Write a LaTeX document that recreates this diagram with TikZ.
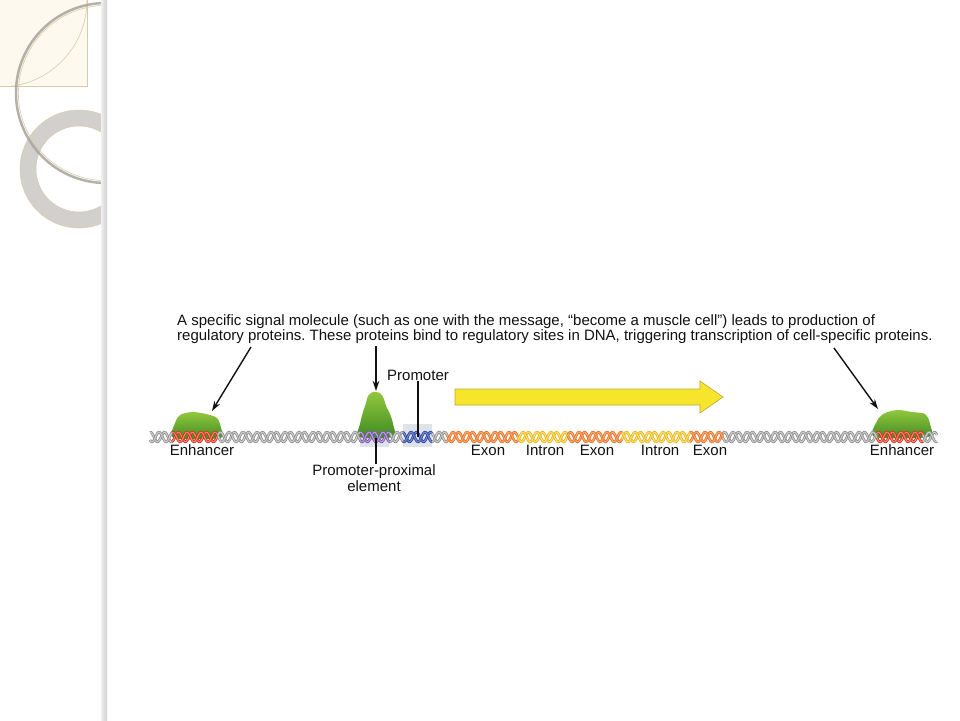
\documentclass[tikz,border=0pt]{standalone}
\usepackage{fontspec}
\setmainfont{Liberation Sans}
\usetikzlibrary{arrows.meta}
\frenchspacing
\definecolor{txt}{HTML}{111111}
\definecolor{cream}{HTML}{FDF9EF}
\definecolor{tanline}{HTML}{D9CBA8}
\definecolor{ringgrey}{HTML}{D2D0CD}
\definecolor{arcgrey}{HTML}{A8A39B}
\definecolor{boxgrey}{HTML}{DEE3EA}
\definecolor{blobhi}{HTML}{92C83E}
\definecolor{bloblo}{HTML}{3E8A22}
\definecolor{arrowyel}{HTML}{F7E52C}
\definecolor{arrowedge}{HTML}{B9A936}
% strand colours: edge / inner
\definecolor{greyE}{HTML}{8A8A8A}\definecolor{greyI}{HTML}{CACACA}
\definecolor{redE}{HTML}{D8261C}\definecolor{redI}{HTML}{F2826A}
\definecolor{purE}{HTML}{7550A8}\definecolor{purI}{HTML}{B79CDA}
\definecolor{bluE}{HTML}{2A3C98}\definecolor{bluI}{HTML}{7088D2}
\definecolor{oraE}{HTML}{E26E26}\definecolor{oraI}{HTML}{F6A86C}
\definecolor{yelE}{HTML}{E9B21E}\definecolor{yelI}{HTML}{F9DE6C}
% one stretch of the double helix: from, to, edge colour, inner colour
\newcommand{\dnapiece}[4]{%
  \foreach \ph in {0,140}{%
    \draw[#3,line width=2.6pt] plot[domain=#1:#2,samples=200] (\x,{437+4.8*sin(mod(\x,14)*25.714+\ph)});
    \draw[#4,line width=1.2pt] plot[domain=#1:#2,samples=200] (\x,{437+4.8*sin(mod(\x,14)*25.714+\ph)});
  }}
\begin{document}
\begin{tikzpicture}[x=1pt,y=-1pt,>={Stealth[length=10pt,width=6.5pt]},
  lbl/.style={font=\fontsize{15}{15.5}\selectfont,text=txt,inner sep=1pt},
  pointer/.style={->,line width=1.4pt,txt},
  tick/.style={line width=1.3pt,txt},
  blob/.style={top color=blobhi,bottom color=bloblo}]
\useasboundingbox (0,0) rectangle (960,720);
% slide decoration
\fill[cream] (0,0) rectangle (87,86);
\draw[tanline,line width=.5pt] (87,0) -- (87,86) -- (0,86);
\begin{scope}
  \clip (0,0) rectangle (87,86);
  \draw[tanline,line width=.6pt] (0,0) circle (87);
\end{scope}
\begin{scope}
  \clip (0,0) rectangle (102,720);
  \draw[ringgrey,line width=16pt] (79,169) circle (51);
  \draw[tanline,line width=.5pt] (79,169) circle (59) (79,169) circle (43);
  \draw[arcgrey,line width=2.5pt,opacity=.85] (106,93) circle (90);
  \draw[tanline,line width=.6pt] (106,93) circle (87.6);
\end{scope}
\shade[left color=gray!12,right color=gray!38] (101,0) rectangle (107,720);
% binding sites
\fill[boxgrey] (360,424) rectangle (389,447);
\fill[boxgrey] (403,424) rectangle (432,447);
% proteins
\shade[blob] plot[smooth cycle] coordinates {(174,438) (175,423) (180,415) (192,412) (206,414) (217,418) (221,428) (220,438)};
\shade[blob] plot[smooth cycle] coordinates {(359,437) (360,424) (363,412) (366,403) (368,396) (373,392) (380,393) (384,399) (386,406) (390,414) (393,424) (393,437)};
\shade[blob] plot[smooth cycle] coordinates {(875,437) (877,421) (885,413) (898,410) (912,412) (925,414) (930,424) (928,437)};
% DNA
\dnapiece{150}{172}{greyE}{greyI}
\dnapiece{172}{218}{redE}{redI}
\dnapiece{218}{360}{greyE}{greyI}
\dnapiece{360}{390}{purE}{purI}
\dnapiece{390}{403}{greyE}{greyI}
\dnapiece{403}{432}{bluE}{bluI}
\dnapiece{432}{447}{greyE}{greyI}
\dnapiece{447}{518}{oraE}{oraI}
\dnapiece{518}{568}{yelE}{yelI}
\dnapiece{568}{622}{oraE}{oraI}
\dnapiece{622}{690}{yelE}{yelI}
\dnapiece{690}{723}{oraE}{oraI}
\dnapiece{723}{877}{greyE}{greyI}
\dnapiece{877}{923}{redE}{redI}
\dnapiece{923}{937}{greyE}{greyI}
% transcription arrow
\filldraw[fill=arrowyel,draw=arrowedge,line width=.6pt] (455,389) -- (700,389) -- (700,381) -- (723,397) -- (700,413) -- (700,405) -- (455,405) -- cycle;
% texts
\node[lbl,anchor=north west,align=left] (msg) at (176,313) {A specific signal molecule (such as one with the message, “become a muscle cell”) leads to production of\\regulatory proteins. These proteins bind to regulatory sites in DNA, triggering transcription of cell-specific proteins.};
\node[lbl] (enhL) at (202,450) {Enhancer};
\node[lbl] (ex1) at (488,450) {Exon};
\node[lbl] (in1) at (545,450) {Intron};
\node[lbl] (ex2) at (597,450) {Exon};
\node[lbl] (in2) at (660,450) {Intron};
\node[lbl] (ex3) at (710,450) {Exon};
\node[lbl] (enhR) at (902,450) {Enhancer};
\node[lbl] (prom) at (418,375) {Promoter};
\node[lbl,align=center] (ppe) at (374,478) {Promoter-proximal\\element};
% pointers
\coordinate (promSite) at (418,437);
\coordinate (ppSite) at (376,438);
\draw[tick] (prom) -- (promSite);
\draw[tick] (ppSite) -- (ppSite |- ppe.north);
\coordinate (srcL) at (251,347);
\coordinate (srcM) at (376,346);
\coordinate (srcR) at (834,348);
\coordinate (tgtL) at (212,411);
\coordinate (tgtM) at (376,391);
\coordinate (tgtR) at (878,409);
\draw[pointer] (srcL) -- (tgtL);
\draw[pointer] (srcM) -- (tgtM);
\draw[pointer] (srcR) -- (tgtR);
\end{tikzpicture}
\end{document}
